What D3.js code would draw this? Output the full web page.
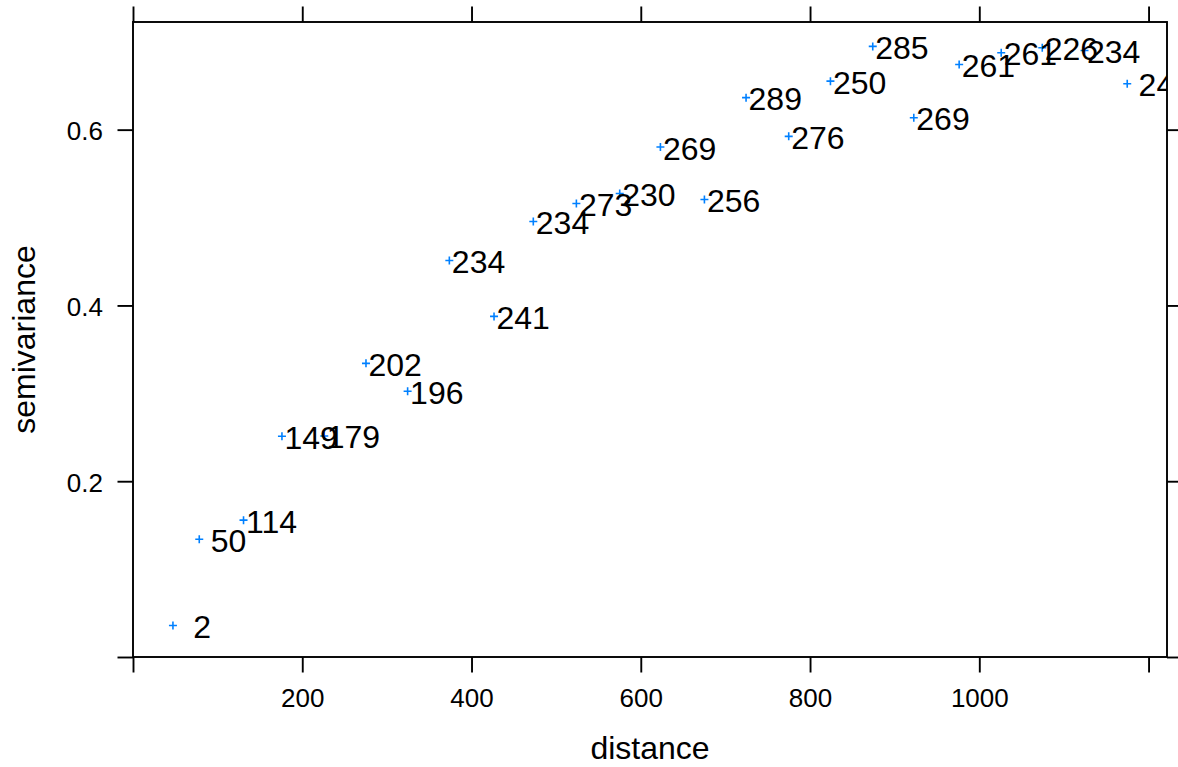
<!DOCTYPE html>
<html><head><meta charset="utf-8">
<script src="https://cdn.jsdelivr.net/npm/d3@7"></script>
<style>
html,body{margin:0;padding:0;background:#fff;}
svg{display:block;font-family:"Liberation Sans",Arial,Helvetica,sans-serif;}
</style></head><body>
<svg id="chart" width="1178" height="767"></svg>
<script>
// Sample variogram: mean pair distance per lag bin, semivariance, number of point pairs
const distance = [47.2, 78.3, 130.6, 176.0, 226.0, 275.3, 324.5, 373.8, 426.6, 473.0, 523.9, 575.1,
                  623.2, 675.2, 724.4, 774.8, 824.1, 874.1, 922.6, 976.2, 1025.9, 1074.4, 1124.3, 1174.8];
const gamma = [0.0359, 0.134, 0.1557, 0.2511, 0.2515, 0.3341, 0.3023, 0.4511, 0.3875, 0.4955, 0.5159, 0.5273,
               0.5802, 0.5205, 0.6364, 0.5924, 0.6552, 0.6947, 0.6136, 0.6742, 0.6875, 0.6932, 0.6901, 0.6523];
const np = [2, 50, 114, 149, 179, 202, 196, 234, 241, 234, 273, 230,
            269, 256, 289, 276, 250, 285, 269, 261, 261, 226, 234, 24];

const xTicks = [0, 200, 400, 600, 800, 1000, 1200];
const xTickLabels = ["", "200", "400", "600", "800", "1000", ""];
const yTicks = [0, 0.2, 0.4, 0.6];
const yTickLabels = ["", "0.2", "0.4", "0.6"];

const svg = d3.select("#chart");
const panel = {left: 133, right: 1167, top: 22, bottom: 657};

// limits as in a variogram plot: from zero to 4% beyond the largest value
const x = d3.scaleLinear().domain([0, 1.04 * d3.max(distance)]).range([panel.left, panel.right]);
const y = d3.scaleLinear().domain([0, 1.04 * d3.max(gamma)]).range([panel.bottom, panel.top]);

const tickLen = 15.5, lw = 1.9;
const fmtX = d => xTickLabels[xTicks.indexOf(d)];
const fmtY = d => yTickLabels[yTicks.indexOf(d)];

function styleAxis(g) {
  g.select(".domain").remove();
  g.selectAll("line").attr("stroke", "#000").attr("stroke-width", lw);
  g.attr("font-family", null).attr("font-size", null);
  g.selectAll("text").attr("font-size", 26).attr("fill", "#000");
}

svg.append("g").attr("transform", `translate(0,${panel.bottom})`)
  .call(d3.axisBottom(x).tickValues(xTicks).tickSize(tickLen).tickSizeOuter(0).tickFormat(fmtX))
  .call(styleAxis)
  .call(g => g.selectAll("text").attr("y", 50).attr("dy", null));

svg.append("g").attr("transform", `translate(0,${panel.top})`)
  .call(d3.axisTop(x).tickValues(xTicks).tickSize(tickLen).tickSizeOuter(0).tickFormat(""))
  .call(styleAxis);

svg.append("g").attr("transform", `translate(${panel.left},0)`)
  .call(d3.axisLeft(y).tickValues(yTicks).tickSize(tickLen).tickSizeOuter(0).tickFormat(fmtY))
  .call(styleAxis)
  .call(g => g.selectAll("text").attr("x", -30).attr("dy", "0.38em"));

svg.append("g").attr("transform", `translate(${panel.right},0)`)
  .call(d3.axisRight(y).tickValues(yTicks).tickSize(tickLen).tickSizeOuter(0).tickFormat(""))
  .call(styleAxis);

// panel frame
svg.append("rect")
  .attr("x", panel.left).attr("y", panel.top)
  .attr("width", panel.right - panel.left).attr("height", panel.bottom - panel.top)
  .attr("fill", "none").attr("stroke", "#000").attr("stroke-width", lw);

svg.append("clipPath").attr("id", "panelClip")
  .append("rect")
  .attr("x", panel.left).attr("y", panel.top)
  .attr("width", panel.right - panel.left).attr("height", panel.bottom - panel.top);

const rows = distance.map((d, i) => ({dist: d, gamma: gamma[i], np: np[i]}));
const plotArea = svg.append("g").attr("clip-path", "url(#panelClip)");

// "+" symbols
plotArea.selectAll("path.pt").data(rows).join("path")
  .attr("class", "pt")
  .attr("transform", d => `translate(${x(d.dist)},${y(d.gamma)})`)
  .attr("d", "M-4,0H4M0,-4V4")
  .attr("stroke", "#0080ff").attr("stroke-width", 1.6).attr("fill", "none");

// pair counts, right-justified to a common width as format() does
const width = d3.max(np, n => String(n).length);
plotArea.selectAll("text.np").data(rows).join("text")
  .attr("class", "np")
  .attr("x", d => x(d.dist) + 2.5)
  .attr("y", d => y(d.gamma))
  .attr("dy", "0.39em")
  .attr("font-size", 32)
  .attr("fill", "#000")
  .style("white-space", "pre")
  .text(d => String(d.np).padStart(width, " "));

// axis titles
svg.append("text")
  .attr("x", (panel.left + panel.right) / 2).attr("y", 759)
  .attr("text-anchor", "middle").attr("font-size", 32).attr("fill", "#000")
  .text("distance");

svg.append("text")
  .attr("transform", `translate(35,${(panel.top + panel.bottom) / 2}) rotate(-90)`)
  .attr("text-anchor", "middle").attr("font-size", 32).attr("fill", "#000")
  .text("semivariance");
</script>
</body></html>
